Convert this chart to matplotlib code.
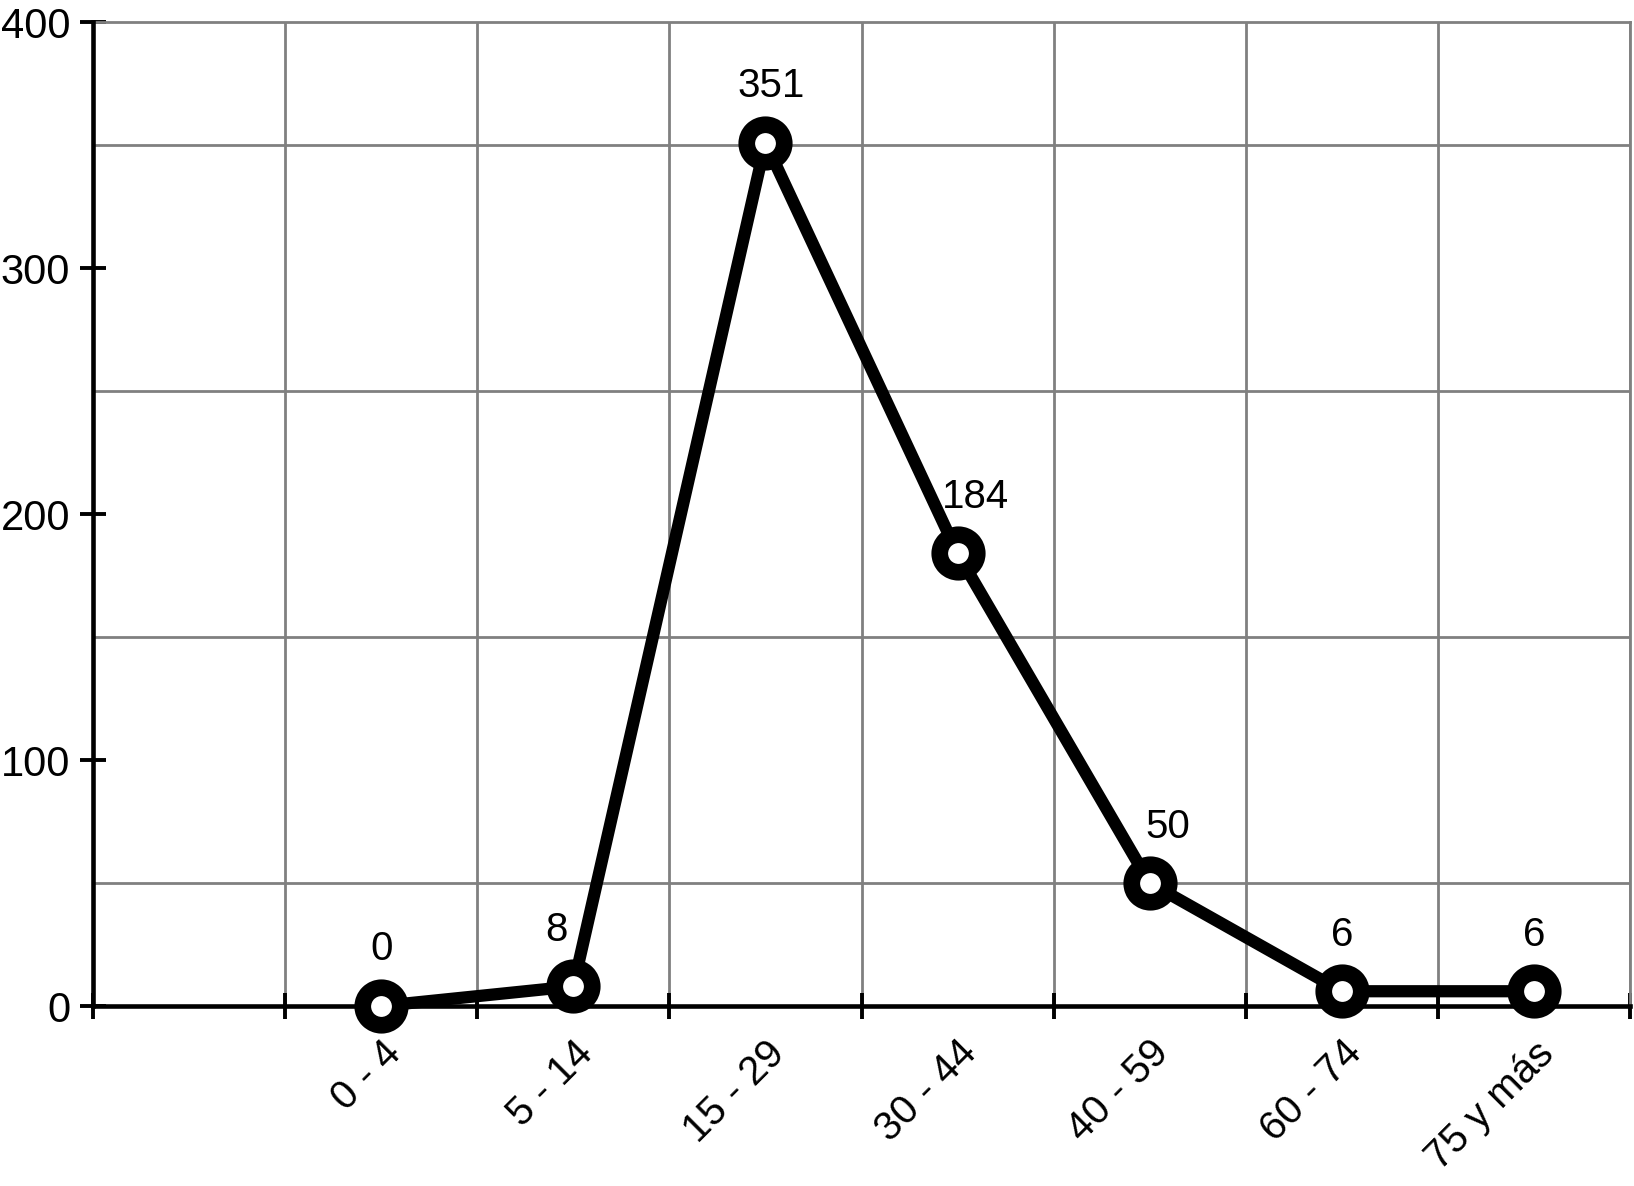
import matplotlib
matplotlib.use("Agg")
import matplotlib.pyplot as plt
from matplotlib.ticker import MultipleLocator, FixedLocator

categories = ["", "0 - 4", "5 - 14", "15 - 29", "30 - 44", "40 - 59", "60 - 74", "75 y más"]
values = [None, 0, 8, 351, 184, 50, 6, 6]
yticks = [0, 100, 200, 300, 400]

plt.rcParams['font.family'] = ['Liberation Sans', 'DejaVu Sans']

DPI = 100
fig = plt.figure(figsize=(16.34, 11.86), dpi=DPI)
ax = fig.add_axes([93/1634, 1 - 1006/1186, (1630-93)/1634, (1006-22)/1186])

xs = [i for i, v in enumerate(values) if v is not None]
ys = [v for v in values if v is not None]

ax.plot(xs, ys, color='black', lw=8.8, marker='o', ms=27, mew=12,
        mfc='white', mec='black', zorder=5, clip_on=False)

# label offsets (points) to keep labels clear of the line
dx = [0, -12, 4, 13, 13, 0, 0]
for (x, y, d) in zip(xs, ys, dx):
    ax.annotate(str(y), (x, y), xytext=(d, 27), textcoords='offset points',
                ha='center', va='bottom', fontsize=29, zorder=6)

ax.set_xlim(-0.5, len(categories) - 0.5)
ax.set_ylim(0, 400)

ax.set_xticks(range(len(categories)))
ax.set_xticklabels(categories, rotation=45, ha='right', rotation_mode='anchor', fontsize=29)
ax.xaxis.set_minor_locator(FixedLocator([i - 0.5 for i in range(len(categories) + 1)]))
ax.tick_params(axis='x', which='major', length=0, pad=20)
ax.tick_params(axis='x', which='minor', direction='inout', length=19, width=2.8, color='black')

ax.set_yticks(yticks)
ax.set_yticklabels([str(t) for t in yticks], fontsize=30)
ax.yaxis.set_minor_locator(MultipleLocator(50))
ax.tick_params(axis='y', which='major', direction='inout', length=19, width=2.8, pad=7)
ax.tick_params(axis='y', which='minor', length=0)

ax.grid(True, which='minor', color='#808080', lw=2.0)
ax.grid(False, which='major')
ax.set_axisbelow(True)

for s in ['top', 'right']:
    ax.spines[s].set_color('#808080')
    ax.spines[s].set_linewidth(2.0)
for s in ['left', 'bottom']:
    ax.spines[s].set_linewidth(3.3)
    ax.spines[s].set_zorder(4)

fig.savefig('out.png', dpi=DPI)
